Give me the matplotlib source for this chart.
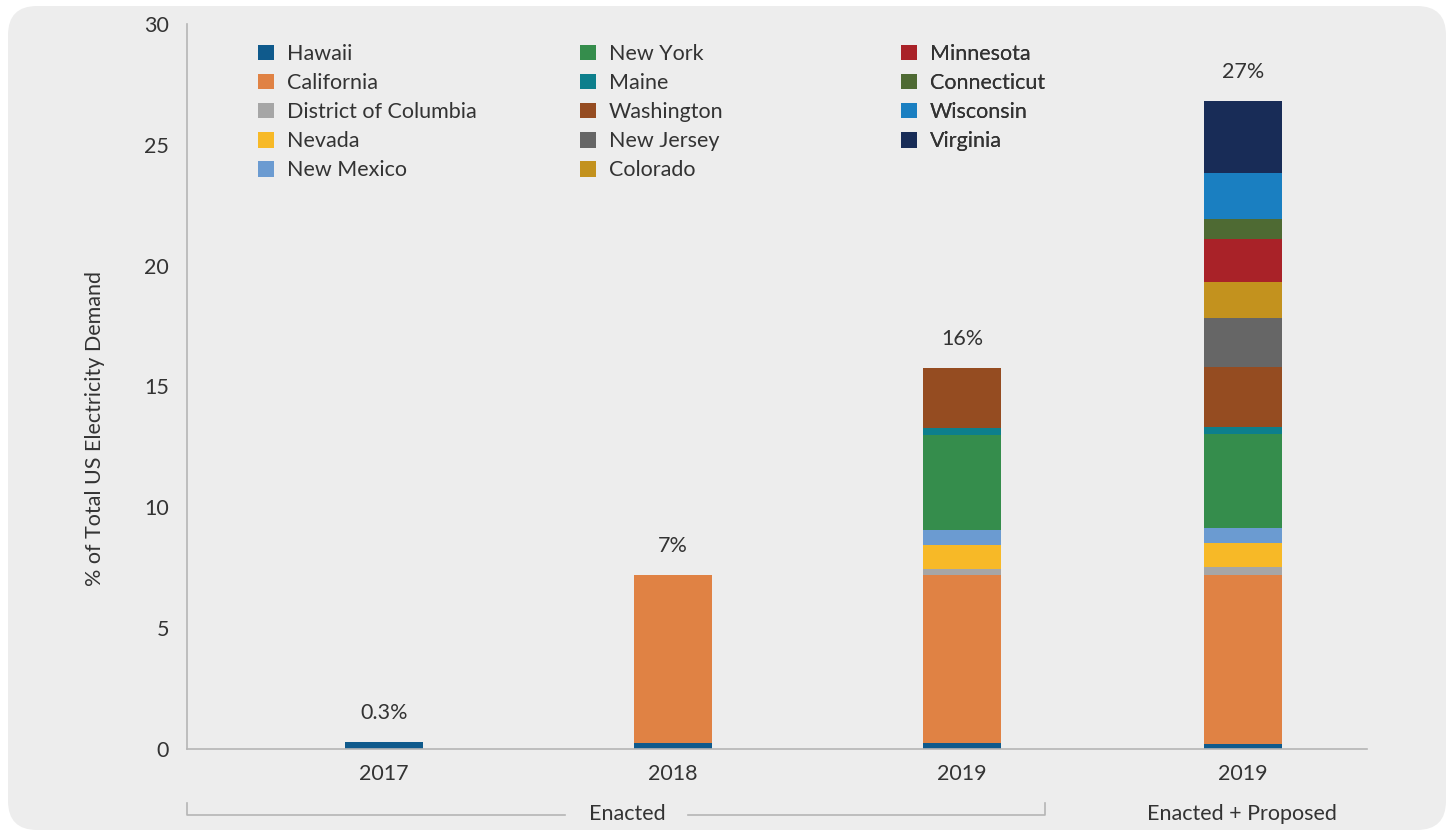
import matplotlib
matplotlib.use("Agg")
import matplotlib.pyplot as plt
import numpy as np
from matplotlib.patches import FancyBboxPatch
from matplotlib.lines import Line2D

plt.rcParams['font.family'] = ['Lato', 'DejaVu Sans']

# data (% of total US electricity demand)
years = ['2017', '2018', '2019', '2019']
totals = ['0.3%', '7%', '16%', '27%']

states = ['Hawaii', 'California', 'District of Columbia', 'Nevada', 'New Mexico',
          'New York', 'Maine', 'Washington', 'New Jersey', 'Colorado',
          'Minnesota', 'Connecticut', 'Wisconsin', 'Virginia']

hawaii = [0.3, 0.25, 0.25, 0.22]
california = [0, 6.95, 6.95, 6.98]
dc = [0, 0, 0.25, 0.33]
nevada = [0, 0, 1.0, 1.0]
new_mexico = [0, 0, 0.62, 0.6]
new_york = [0, 0, 3.93, 3.9]
maine = [0, 0, 0.29, 0.29]
washington = [0, 0, 2.48, 2.5]
new_jersey = [0, 0, 0, 2.0]
colorado = [0, 0, 0, 1.5]
minnesota = [0, 0, 0, 1.8]
connecticut = [0, 0, 0, 0.8]
wisconsin = [0, 0, 0, 1.9]
virginia = [0, 0, 0, 3.0]

series = [hawaii, california, dc, nevada, new_mexico, new_york, maine,
          washington, new_jersey, colorado, minnesota, connecticut,
          wisconsin, virginia]

colors = ['#0f5a8c', '#e08244', '#a6a6a6', '#f7b927', '#6b9bd1',
          '#358d4c', '#0d7f8c', '#954c21', '#666666', '#c3921e',
          '#a92228', '#4e6a33', '#1a7fc1', '#182c57']

W, H = 1454, 836
BG = '#ededed'
TXT = '#333333'
GRID = '#b5b5b5'
FS = 15.5

fig = plt.figure(figsize=(W / 100, H / 100), dpi=100)
fig.patch.set_facecolor('white')
fig.patches.append(FancyBboxPatch((8 / W, 6 / H), (W - 16) / W, (H - 12) / H,
                                  boxstyle='round,pad=0,rounding_size=0.02',
                                  transform=fig.transFigure, facecolor=BG,
                                  edgecolor='none', zorder=-10,
                                  mutation_aspect=W / H))

ax = fig.add_axes([187 / W, 87 / H, (1367 - 187) / W, (749 - 24) / H])
ax.set_facecolor(BG)

# bar positions (last bar sits a little closer to the third)
x = np.array([0, 1, 2, 2.97])
bottom = np.zeros(len(years))
bars = []
for name, vals, c in zip(states, series, colors):
    b = ax.bar(x, vals, 0.27, bottom=bottom, color=c, label=name)
    bars.append(b)
    bottom += np.array(vals)

for xi, top, lab in zip(x, bottom, totals):
    ax.annotate(lab, (xi, top), xytext=(0, 21), textcoords='offset points',
                ha='center', va='center', fontsize=FS, color=TXT)

ax.set_ylim(0, 30)
ax.set_xlim(-0.68, 3.40)
ax.set_yticks(range(0, 31, 5))
ax.set_xticks(x)
ax.set_xticklabels(years)
ax.tick_params(length=0, labelsize=FS, labelcolor=TXT)
ax.tick_params(axis='y', pad=13)
ax.tick_params(axis='x', pad=11)
for s in ['top', 'right']:
    ax.spines[s].set_visible(False)
for s in ['left', 'bottom']:
    ax.spines[s].set_color(GRID)
    ax.spines[s].set_linewidth(1.2)

fig.text(95 / W, 1 - 429 / H, '% of Total US Electricity Demand', rotation=90,
         ha='center', va='center', fontsize=FS, color=TXT)

# legend in three separate columns
groups = [(0, 5, 258), (5, 10, 580), (10, 14, 901)]
for i0, i1, xp in groups:
    leg = ax.legend(bars[i0:i1], states[i0:i1], loc='upper left',
                    bbox_to_anchor=(xp / W, 1 - 44 / H),
                    bbox_transform=fig.transFigure, frameon=False,
                    fontsize=FS, handlelength=0.75, handleheight=0.75,
                    handletextpad=0.6, labelspacing=0.42, borderpad=0,
                    borderaxespad=0, labelcolor=TXT)
    ax.add_artist(leg)

# bottom group bracket
def fl(xs, ys):
    fig.add_artist(Line2D([v / W for v in xs], [1 - v / H for v in ys],
                          color=GRID, linewidth=1.2, transform=fig.transFigure))

fl([187, 187, 565], [803, 815, 815])
fl([688, 1045, 1045], [815, 815, 803])
fig.text(627 / W, 1 - 814 / H, 'Enacted', ha='center', va='center',
         fontsize=FS, color=TXT)
fig.text(1242 / W, 1 - 814 / H, 'Enacted + Proposed', ha='center', va='center',
         fontsize=FS, color=TXT)

fig.savefig('out.png', dpi=100, facecolor=fig.get_facecolor())
